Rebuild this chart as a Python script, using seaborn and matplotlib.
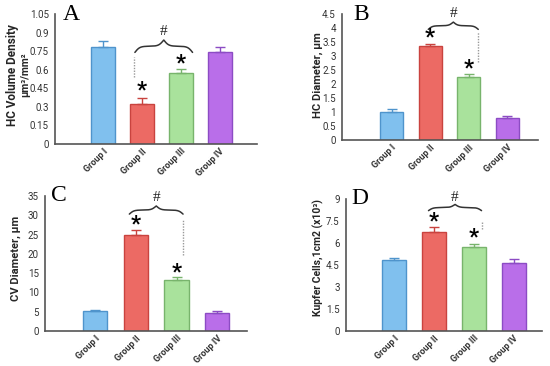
import numpy as np
import pandas as pd
import matplotlib
matplotlib.use("Agg")
import matplotlib.pyplot as plt
import seaborn as sns

# Groups shared by all four panels
groups = ["Group I", "Group II", "Group III", "Group IV"]

# Panel A - HC volume density (mean, SEM)
hc_density = [0.78, 0.32, 0.57, 0.745]
hc_density_err = [0.05, 0.05, 0.04, 0.035]

# Panel B - HC diameter
hc_diameter = [1.02, 3.37, 2.25, 0.80]
hc_diameter_err = [0.08, 0.08, 0.12, 0.05]

# Panel C - CV diameter
cv_diameter = [5.1, 25.0, 13.3, 4.7]
cv_diameter_err = [0.45, 1.1, 0.6, 0.4]

# Panel D - Kupffer cells
kupfer = [4.85, 6.75, 5.7, 4.65]
kupfer_err = [0.12, 0.35, 0.22, 0.27]

# y ticks for each panel
ticks_a = [0, 0.15, 0.3, 0.45, 0.6, 0.75, 0.9, 1.05]
ticks_b = [0, 0.5, 1, 1.5, 2, 2.5, 3, 3.5, 4, 4.5]
ticks_c = [0, 5, 10, 15, 20, 25, 30, 35]
ticks_d = [0, 1.5, 3, 4.5, 6, 7.5, 9]

FILL = ["#80c0ee", "#ec6a64", "#a9e29c", "#b96ee9"]
EDGE = ["#4f94cc", "#c9433f", "#78b46c", "#8c4cc4"]


def tick_fmt(v):
    return f"{v:g}"


def brace(ax, x1, x2, y, h, beta=12):
    # curly brace drawn from two logistic halves
    n = 200
    t = np.linspace(0, 1, n)
    half = 1 / (1 + np.exp(-beta * t)) + 1 / (1 + np.exp(-beta * (t - 1))) - 0.5
    full = np.concatenate([half, half[::-1]])
    xs = np.linspace(x1, x2, 2 * n)
    ax.plot(xs, y + h * full, color="#333333", lw=1.1, clip_on=False)


def draw_panel(ax, values, errors, ticks, letter, cfg):
    df = pd.DataFrame({"Group": groups, "Value": values})
    sns.barplot(data=df, x="Group", y="Value", hue="Group", palette=FILL,
                width=0.6, errorbar=None, legend=False, ax=ax,
                linewidth=1.0, saturation=1)
    for patch, ec in zip(ax.patches, EDGE):
        patch.set_edgecolor(ec)

    # upper-only error bars
    for i, (v, e) in enumerate(zip(values, errors)):
        ax.errorbar(i, v, yerr=[[0], [e]], fmt="none", ecolor=EDGE[i],
                    elinewidth=1.0, capsize=3.5, capthick=1.0)

    ax.set_ylim(0, ticks[-1])
    ax.set_xlim(*cfg["xlim"])
    ax.set_yticks(ticks)
    ax.set_yticklabels([tick_fmt(t) for t in ticks], fontsize=7, color="#333333")
    ax.tick_params(axis="y", length=3, width=0.8, color="#555555", pad=1.5)
    ax.tick_params(axis="x", length=0, pad=2)
    ax.set_xticks(range(4))
    ax.set_xticklabels(groups, rotation=45, ha="right", rotation_mode="anchor",
                       fontsize=6.5, fontweight="bold", color="#333333")
    ax.set_xlabel("")
    ax.set_ylabel("")
    for s in ["top", "right"]:
        ax.spines[s].set_visible(False)
    for s in ["left", "bottom"]:
        ax.spines[s].set_color("#555555")
        ax.spines[s].set_linewidth(1.2)

    # significance marks
    for xi, yi in cfg["stars"]:
        ax.text(xi, yi, "*", ha="center", va="center", fontsize=16,
                fontweight="bold", color="black", clip_on=False)
    x1, x2 = cfg["brace"]
    brace(ax, x1, x2, cfg["brace_y"], cfg["brace_h"])
    ax.text((x1 + x2) / 2, cfg["hash_y"], "#", ha="center", va="center",
            fontsize=11, family="Liberation Serif", color="#222222", clip_on=False)
    dx, dy1, dy2 = cfg["dots"]
    ax.plot([dx, dx], [dy1, dy2], color="#999999", lw=1.0, ls=(0, (1, 1)),
            clip_on=False)

    ax.text(cfg["letter_x"], 1.0, letter, transform=ax.transAxes, ha="left",
            va="center", fontsize=17, family="Liberation Serif", color="black")


def main():
    sns.set_theme(style="white")
    plt.rcParams["font.family"] = ["Roboto", "DejaVu Sans"]

    fig = plt.figure(figsize=(5.5, 3.66), dpi=100)
    ax_a = fig.add_axes([0.100, 0.6066, 0.367, 0.355])
    ax_b = fig.add_axes([0.622, 0.617, 0.356, 0.344])
    ax_c = fig.add_axes([0.082, 0.0956, 0.367, 0.369])
    ax_d = fig.add_axes([0.629, 0.0956, 0.356, 0.361])

    draw_panel(ax_a, hc_density, hc_density_err, ticks_a, "A", {
        "xlim": (-1.23, 3.95), "stars": [(1, 0.43), (2, 0.655)],
        "brace": (0.82, 2.30), "brace_y": 0.74, "brace_h": 0.10,
        "hash_y": 0.905, "dots": (0.80, 0.54, 0.70), "letter_x": 0.04})
    draw_panel(ax_b, hc_diameter, hc_diameter_err, ticks_b, "B", {
        "xlim": (-1.29, 3.80), "stars": [(1, 3.66), (2, 2.55)],
        "brace": (0.95, 2.25), "brace_y": 3.96, "brace_h": 0.26,
        "hash_y": 4.53, "dots": (2.25, 2.79, 3.86), "letter_x": 0.06})
    draw_panel(ax_c, cv_diameter, cv_diameter_err, ticks_c, "C", {
        "xlim": (-1.23, 3.73), "stars": [(1, 27.6), (2, 15.3)],
        "brace": (0.84, 2.16), "brace_y": 30.3, "brace_h": 2.1,
        "hash_y": 34.7, "dots": (2.16, 19.6, 29.0), "letter_x": 0.03})
    draw_panel(ax_d, kupfer, kupfer_err, ticks_d, "D", {
        "xlim": (-1.21, 3.70), "stars": [(1, 7.45), (2, 6.35)],
        "brace": (0.86, 2.19), "brace_y": 8.2, "brace_h": 0.42,
        "hash_y": 9.1, "dots": (2.19, 6.97, 7.5), "letter_x": 0.03})

    # y axis titles
    fig.text(13 / 550, 1 - 75 / 366, "HC Volume Density", rotation=90,
             ha="center", va="center", fontsize=8.5, fontweight="bold")
    fig.text(25 / 550, 1 - 75 / 366, "µm³/mm²", rotation=90,
             ha="center", va="center", fontsize=7.5, fontweight="bold")
    fig.text(318 / 550, 1 - 75 / 366, "HC Diameter, µm", rotation=90,
             ha="center", va="center", fontsize=8, fontweight="bold")
    fig.text(16 / 550, 1 - 258 / 366, "CV Diameter, µm", rotation=90,
             ha="center", va="center", fontsize=8, fontweight="bold")
    fig.text(318 / 550, 1 - 258 / 366, "Kupfer Cells,1cm2 (x10³)", rotation=90,
             ha="center", va="center", fontsize=7.5, fontweight="bold")

    fig.savefig("out.png", dpi=100)


if __name__ == "__main__":
    main()
